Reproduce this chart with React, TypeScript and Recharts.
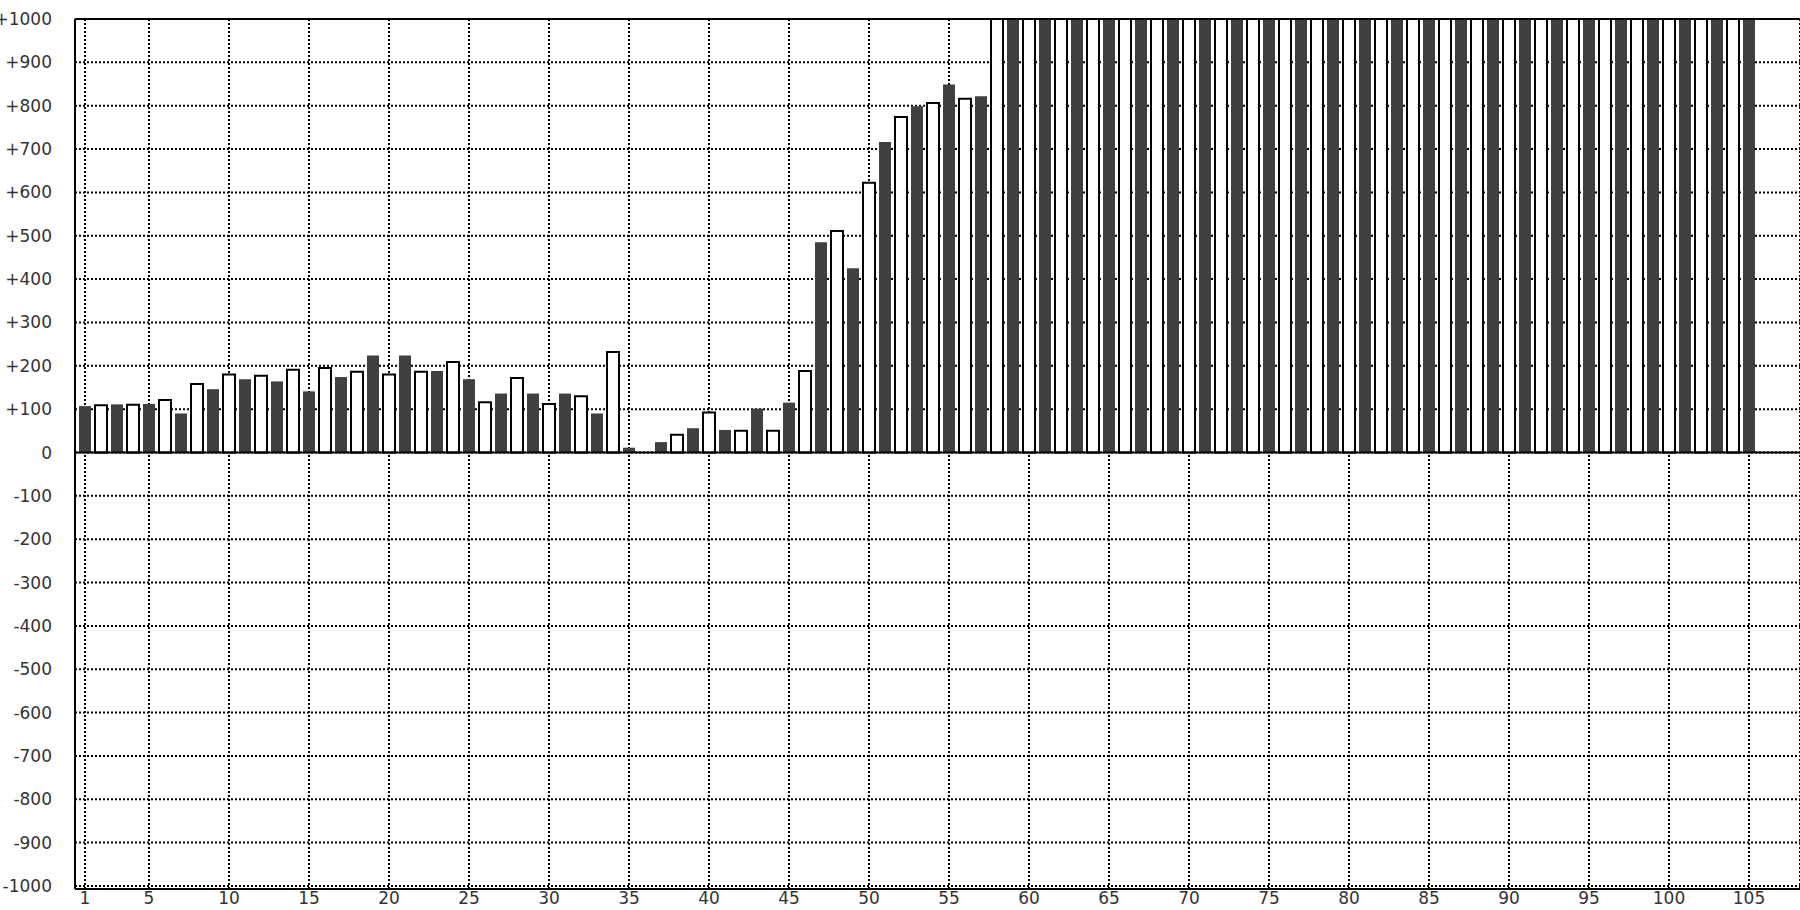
import React from "react";
import { BarChart, Bar, XAxis, YAxis, CartesianGrid, ReferenceLine, Cell } from "recharts";

// Category numbers 1..105
const categories: number[] = Array.from({ length: 105 }, (_, i) => i + 1);

// Bar values (values at/above +1000 are clipped at the top border)
const values: number[] = [
  107, 109, 111, 110, 112, 121, 90, 158, 146, 180,
  169, 177, 164, 191, 141, 195, 174, 186, 224, 180,
  224, 186, 188, 209, 169, 116, 136, 172, 136, 112,
  136, 130, 90, 232, 11, 0, 24, 41, 56, 92,
  52, 50, 101, 50, 115, 188, 485, 511, 425, 622,
  716, 774, 799, 806, 849, 816, 822, 1000, 1000, 1000,
  1000, 1000, 1000, 1000, 1000, 1000, 1000, 1000, 1000, 1000,
  1000, 1000, 1000, 1000, 1000, 1000, 1000, 1000, 1000, 1000,
  1000, 1000, 1000, 1000, 1000, 1000, 1000, 1000, 1000, 1000,
  1000, 1000, 1000, 1000, 1000, 1000, 1000, 1000, 1000, 1000,
  1000, 1000, 1000, 1000, 1000,
];

const xTicks: number[] = [1, 5, 10, 15, 20, 25, 30, 35, 40, 45, 50, 55, 60, 65, 70, 75, 80, 85, 90, 95, 100, 105];
const yTicks: number[] = [-1000, -900, -800, -700, -600, -500, -400, -300, -200, -100, 0, 100, 200, 300, 400, 500, 600, 700, 800, 900, 1000];

const data = categories.map((c, i) => ({ x: c, v: values[i] }));

const fmtY = (v: number) => (v > 0 ? `+${v}` : `${v}`);

const tickStyle = { fontFamily: "DejaVu Sans", fontSize: 17, fill: "#333" };

export default function App() {
  return (
    <div style={{ position: "absolute", left: 0, top: 0, width: 1800, height: 910, background: "#fff" }}>
      <BarChart
        width={1800}
        height={910}
        data={data}
        margin={{ top: 19, right: 0, bottom: 0, left: 0 }}
      >
        <CartesianGrid stroke="#000" strokeDasharray="2 2" strokeWidth={2} />
        <XAxis
          dataKey="x"
          type="number"
          domain={[0.375, 108.1875]}
          ticks={xTicks}
          allowDataOverflow
          interval={0}
          height={21}
          tickLine={false}
          tickSize={0}
          tickMargin={3}
          axisLine={{ stroke: "#000", strokeWidth: 2 }}
          tick={tickStyle}
        />
        <YAxis
          type="number"
          domain={[-1007, 1000]}
          ticks={yTicks}
          allowDataOverflow
          interval={0}
          width={75}
          tickLine={false}
          tickSize={0}
          tickMargin={23}
          tickFormatter={fmtY}
          axisLine={{ stroke: "#000", strokeWidth: 2 }}
          tick={tickStyle}
        />
        <Bar dataKey="v" barSize={12} isAnimationActive={false}>
          {data.map((d) => (
            <Cell
              key={d.x}
              fill={d.x % 2 === 1 ? "#404040" : "#ffffff"}
              stroke={d.x % 2 === 1 ? "none" : "#000"}
              strokeWidth={d.x % 2 === 1 ? 0 : 2}
            />
          ))}
        </Bar>
        <ReferenceLine y={0} stroke="#000" strokeWidth={2} />
        <ReferenceLine y={1000} stroke="#000" strokeWidth={2} />
      </BarChart>
    </div>
  );
}
